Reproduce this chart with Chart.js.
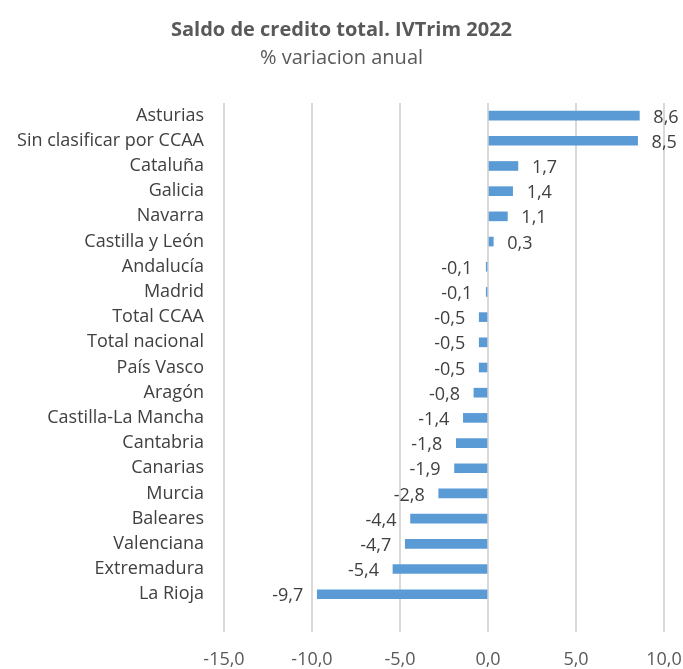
<!DOCTYPE html>
<html><head><meta charset="utf-8">
<script src="https://cdn.jsdelivr.net/npm/chart.js@4/dist/chart.umd.min.js"></script>
<style>html,body{margin:0;padding:0;background:#fff}#w{width:683px;height:669px}</style>
</head><body><div id="w"><canvas id="c"></canvas></div>
<script>
const categories = ["Asturias","Sin clasificar por CCAA","Cataluña","Galicia","Navarra","Castilla y León","Andalucía","Madrid","Total CCAA","Total nacional","País Vasco","Aragón","Castilla-La Mancha","Cantabria","Canarias","Murcia","Baleares","Valenciana","Extremadura","La Rioja"];
const values = [8.6,8.5,1.7,1.4,1.1,0.3,-0.1,-0.1,-0.5,-0.5,-0.5,-0.8,-1.4,-1.8,-1.9,-2.8,-4.4,-4.7,-5.4,-9.7];
const xTicks = [-15,-10,-5,0,5,10];
const titleText = "Saldo de credito total. IVTrim 2022";
const subtitleText = "% variacion anual";

const fmt = v => v.toFixed(1).replace('.', ',');
const FONT = "'Open Sans', sans-serif";

const labelPlugin = {
  id: 'valLabels',
  afterDatasetsDraw(chart) {
    const ctx = chart.ctx;
    const meta = chart.getDatasetMeta(0);
    ctx.save();
    ctx.font = "18px " + FONT;
    ctx.fillStyle = "#404040";
    ctx.textBaseline = "middle";
    meta.data.forEach((bar, i) => {
      const v = values[i];
      if (v === undefined) return;
      const xEnd = bar.x;
      if (v >= 0) { ctx.textAlign = "left"; ctx.fillText(fmt(v), xEnd + 14, bar.y + 2); }
      else { ctx.textAlign = "right"; ctx.fillText(fmt(v), xEnd - 14, bar.y + 2); }
    });
    ctx.restore();
  }
};

new Chart(document.getElementById('c'), {
  type: 'bar',
  data: {
    labels: categories.concat(['']),
    datasets: [{ data: values.concat([null]), backgroundColor: '#5B9BD5', borderWidth: 0, barThickness: 9 }]
  },
  options: {
    indexAxis: 'y',
    responsive: true,
    maintainAspectRatio: false,
    animation: false,
    layout: { padding: { left: 0, right: 0, top: 0, bottom: 0 } },
    plugins: {
      legend: { display: false },
      tooltip: { enabled: false },
      title: { display: true, text: titleText, color: '#595959', font: { family: FONT, size: 20, weight: 'bold' }, padding: { top: 18, bottom: 4 } },
      subtitle: { display: true, text: subtitleText, color: '#595959', font: { family: FONT, size: 20 }, padding: { top: 0, bottom: 33 } }
    },
    scales: {
      x: {
        min: -15, max: 10,
        afterBuildTicks: s => { s.ticks = xTicks.map(v => ({ value: v })); },
        ticks: { callback: v => fmt(v), color: '#595959', font: { family: FONT, size: 18 }, padding: 17, maxRotation: 0 },
        grid: { color: '#D9D9D9', lineWidth: 2, drawTicks: false },
        border: { display: false },
        afterFit: s => { s.height = 37; s.paddingRight = 19; }
      },
      y: {
        ticks: { color: '#404040', font: { family: FONT, size: 18 }, padding: 20, autoSkip: false },
        grid: { display: false, drawTicks: false },
        border: { display: false },
        afterFit: s => { s.width = 224; }
      }
    }
  },
  plugins: [labelPlugin]
});
</script></body></html>
